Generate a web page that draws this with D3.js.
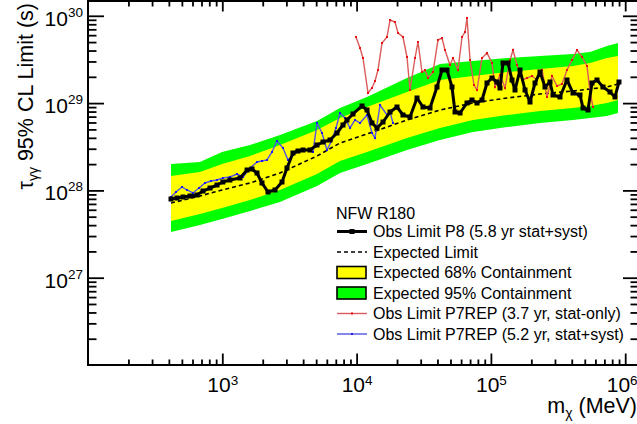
<!DOCTYPE html>
<html><head><meta charset="utf-8">
<script src="https://cdn.jsdelivr.net/npm/d3@7"></script>
<style>
body{margin:0;background:#fff}
svg{display:block}
text{font-family:"Liberation Sans",Arial,Helvetica,sans-serif;fill:#000}
</style></head>
<body><svg id="c" width="637" height="424"></svg>
<script>
// ---------------- data (mass in MeV, lifetime limit in s) ----------------
const massP8 = [415,460,510,575,648,718,810,913,1010,1140,1355,1530,1664,1813,1975,2189,2469,2783,3032,3360,3662,3990,4498,5071,5622,6338,7146,7920,8483,9402,10970,11950,13020,14190,15730,17740,19990,22150,24980,28170,31220,35210,39690,43250,47120,51330,54050,58890,66370,72320,78790,85850,93540,101900,111000,116900,123100,134100,143600,151200,164700,179500,195500,213000,232100,252900,275400,290000,326900,368600,408700,460800,485100,528400,566000,616600,683600,770700,839500,898800];
const tauP8 = [7.97e27,8.18e27,8.40e27,8.63e27,8.86e27,9.84e27,1.065e28,1.153e28,1.248e28,1.315e28,1.387e28,1.713e28,1.759e28,1.582e28,1.216e28,9.59e27,1.011e28,1.248e28,1.806e28,2.682e28,2.827e28,2.902e28,2.902e28,3.311e28,3.584e28,3.779e28,4.545e28,5.612e28,6.404e28,7.503e28,9.264e28,8.337e28,5.917e28,5.186e28,6.074e28,7.910e28,9.023e28,7.307e28,6.931e28,1.144e29,9.023e28,8.788e28,1.529e29,2.394e29,2.394e29,1.529e29,7.910e28,7.704e28,1.003e29,1.085e29,1.003e29,1.085e29,1.699e29,1.939e29,1.745e29,1.489e29,2.880e29,2.880e29,1.839e29,1.413e29,2.394e29,1.413e29,1.029e29,1.699e29,2.271e29,1.529e29,1.745e29,1.238e29,1.175e29,1.839e29,1.305e29,1.238e29,8.788e28,8.337e28,1.699e29,1.839e29,1.529e29,1.340e29,1.175e29,1.745e29];

const massExp = [415,682,995,1609,2689,5071,7522,11950,23730,41780,73560,131800,232100,408700,547000,731900,883700];
const tauExpected = [7.17e27,8.63e27,1.011e28,1.216e28,1.582e28,2.477e28,3.491e28,4.426e28,6.404e28,8.337e28,1.003e29,1.144e29,1.271e29,1.376e29,1.450e29,1.529e29,1.655e29];
const tau68Hi = [1.462e28,1.625e28,2.006e28,2.477e28,3.311e28,4.920e28,6.752e28,9.023e28,1.340e29,1.839e29,2.044e29,2.271e29,2.459e29,2.661e29,2.880e29,3.286e29,3.464e29];
const tau68Lo = [4.46e27,5.37e27,6.29e27,7.76e27,1.011e28,1.541e28,2.172e28,2.754e28,3.983e28,5.186e28,6.404e28,7.307e28,8.120e28,8.788e28,9.264e28,1.003e29,1.085e29];
const tau95Hi = [2.006e28,2.115e28,2.754e28,3.311e28,4.311e28,6.237e28,8.788e28,1.175e29,1.939e29,2.805e29,3.035e29,3.286e29,3.464e29,3.651e29,3.848e29,4.510e29,4.880e29];
const tau95Lo = [3.34e27,4.01e27,4.70e27,5.81e27,7.36e27,1.123e28,1.582e28,2.006e28,2.902e28,3.779e28,4.667e28,5.323e28,5.917e28,6.404e28,6.752e28,7.116e28,7.704e28];

const massP7Stat = [9897,10600,11160,12160,13020,13710,14430,15460,16840,17740,19320,20340,22150,23730,24980,27220,28660,30690,32310,34010,37060,40370,43250,45510,49600,52230,56890,60950,64150,66370,69930,74860,78790,85850,93540,101900,107300,116900,127400,138800,146100,156500,170500,185700,202300,220400,240200,261700,285100,310600,338400,368600,401800,437700,476900,519600,547000,575600];
const tauP7Stat = [5.718e29,4.278e29,3.286e29,1.305e29,1.489e29,1.791e29,2.394e29,4.880e29,5.718e29,8.952e29,8.492e29,6.353e29,5.718e29,3.374e29,1.413e29,3.286e29,5.012e29,2.271e29,2.394e29,1.939e29,2.271e29,5.284e29,5.568e29,4.057e29,2.732e29,3.286e29,2.394e29,5.718e29,6.523e29,9.437e29,3.116e29,1.612e29,1.413e29,3.286e29,3.749e29,2.880e29,1.529e29,2.099e29,1.489e29,3.116e29,4.057e29,2.732e29,1.839e29,1.939e29,2.044e29,1.839e29,2.394e29,1.175e29,2.044e29,1.570e29,1.655e29,2.394e29,3.116e29,4.057e29,3.374e29,2.661e29,1.340e29,9.023e28];

const massP7Syst = [415,452,501,546,605,671,743,824,913,1010,1140,1287,1426,1609,1813,1975,2152,2345,2555,2831,3085,3360,3599,3922,4273,4736,5071,5526,6021,6560,7025,7522,8196,8930,9730,10600,11950,13020,13710,14940,16840,17740,18660];
const tauP7Syst = [8.40e27,9.59e27,1.094e28,1.011e28,9.34e27,1.065e28,1.216e28,1.281e28,1.315e28,1.387e28,1.424e28,1.541e28,1.424e28,1.806e28,2.115e28,2.172e28,2.230e28,2.754e28,3.680e28,3.060e28,2.230e28,2.544e28,2.754e28,2.827e28,2.902e28,2.754e28,5.917e28,4.545e28,2.902e28,3.779e28,5.186e28,7.704e28,6.752e28,5.186e28,6.404e28,5.917e28,7.307e28,4.545e28,3.983e28,9.510e28,7.307e28,7.910e28,5.917e28];

const xMajorExp = [3,4,5,6];
const yMajorExp = [27,28,29,30];
const legendTitle = "NFW R180";
const legendLabels = ["Obs Limit P8 (5.8 yr stat+syst)","Expected Limit","Expected 68% Containment","Expected 95% Containment","Obs Limit P7REP (3.7 yr, stat-only)","Obs Limit P7REP (5.2 yr, stat+syst)"];

// ---------------- layout ----------------
const L=88, R=638, T=1, B=365;
const pxPerDecX=134.3, pxPerDecY=87.3;
const x=d3.scaleLog().domain([100, Math.pow(10, 2+(R-L)/pxPerDecX)]).range([L,R]);
const y=d3.scaleLog().domain([1e26, Math.pow(10, 26+(B-T)/pxPerDecY)]).range([B,T]);
const svg=d3.select("#c");
const GREEN="#00ff00", YELLOW="#ffff00", RED="#dc5a5a", REDM="#e81010", BLUE="#5252e6", BLUEM="#1a1aff";

// bands
const area=(lo,hi)=>d3.area().x((d,i)=>x(massExp[i])).y0((d,i)=>y(lo[i])).y1((d,i)=>y(hi[i]));
svg.append("path").datum(massExp).attr("d",area(tau95Lo,tau95Hi)).attr("fill",GREEN);
svg.append("path").datum(massExp).attr("d",area(tau68Lo,tau68Hi)).attr("fill",YELLOW);

const line=d3.line().x(d=>x(d[0])).y(d=>y(d[1]));
// expected
svg.append("path").datum(d3.zip(massExp,tauExpected)).attr("d",line).attr("fill","none")
  .attr("stroke","#000").attr("stroke-width",1.6).attr("stroke-dasharray","4,3");
// P7REP syst (blue)
const blue=d3.zip(massP7Syst,tauP7Syst);
svg.append("path").datum(blue).attr("d",line).attr("fill","none").attr("stroke",BLUE).attr("stroke-width",1.4);
svg.append("g").selectAll("rect").data(blue).join("rect")
  .attr("x",d=>x(d[0])-1).attr("y",d=>y(d[1])-1).attr("width",2).attr("height",2).attr("fill",BLUEM);
// P7REP stat (red)
const red=d3.zip(massP7Stat,tauP7Stat);
svg.append("path").datum(red).attr("d",line).attr("fill","none").attr("stroke",RED).attr("stroke-width",1.4);
svg.append("g").selectAll("rect").data(red).join("rect")
  .attr("x",d=>x(d[0])-1).attr("y",d=>y(d[1])-1).attr("width",2).attr("height",2).attr("fill",REDM);
// P8 observed (black)
const p8=d3.zip(massP8,tauP8);
svg.append("path").datum(p8).attr("d",line).attr("fill","none").attr("stroke","#000").attr("stroke-width",3).attr("stroke-linejoin","round");
svg.append("g").selectAll("rect").data(p8).join("rect")
  .attr("x",d=>x(d[0])-2.5).attr("y",d=>y(d[1])-2.5).attr("width",5).attr("height",5).attr("fill","#000");

// ---------------- axes ----------------
const xMajor=xMajorExp.map(e=>Math.pow(10,e));
const xMinor=[]; for(let e=2;e<=6;e++) for(let k=2;k<=9;k++){const v=k*Math.pow(10,e); if(v<x.domain()[1]) xMinor.push(v);}
const yMajor=yMajorExp.map(e=>Math.pow(10,e));
const yMinor=[]; for(let e=26;e<=30;e++) for(let k=2;k<=9;k++){const v=k*Math.pow(10,e); if(v<y.domain()[1]) yMinor.push(v);}

function styleAxis(g){g.select(".domain").remove(); g.selectAll("line").attr("stroke","#000").attr("stroke-width",1.8);}
function supLabels(sel, base){
  sel.selectAll("text").each(function(d){
    const t=d3.select(this); t.text(null);
    t.append("tspan").text("10");
    t.append("tspan").attr("font-size",13.5).attr("dy",base).text(Math.round(Math.log10(d)));
  });
}
// bottom
const gb=svg.append("g").attr("transform",`translate(0,${B})`);
gb.append("g").call(d3.axisBottom(x).tickValues(xMinor).tickSizeInner(-5.5).tickSizeOuter(0).tickFormat("")).call(styleAxis);
const gbm=gb.append("g").call(d3.axisBottom(x).tickValues(xMajor).tickSizeInner(-11.5).tickSizeOuter(0).tickPadding(0).tickFormat(d=>d)).call(styleAxis);
gbm.selectAll("text").attr("y",27).attr("dy",null).attr("font-size",21).attr("font-family","Liberation Sans, Arial, sans-serif")
  .attr("x",d=>d>=1e6?-3.5:0);
supLabels(gbm,-7.5);
// top
svg.append("g").attr("transform",`translate(0,${T})`).call(d3.axisTop(x).tickValues(xMinor).tickSizeInner(-5.5).tickSizeOuter(0).tickFormat("")).call(styleAxis);
svg.append("g").attr("transform",`translate(0,${T})`).call(d3.axisTop(x).tickValues(xMajor).tickSizeInner(-10.5).tickSizeOuter(0).tickFormat("")).call(styleAxis);
// left
const gl=svg.append("g").attr("transform",`translate(${L},0)`);
gl.append("g").call(d3.axisLeft(y).tickValues(yMinor).tickSizeInner(-8.5).tickSizeOuter(0).tickFormat("")).call(styleAxis);
const glm=gl.append("g").call(d3.axisLeft(y).tickValues(yMajor).tickSizeInner(-16).tickSizeOuter(0).tickPadding(5).tickFormat(d=>d)).call(styleAxis);
glm.selectAll("text").attr("dy",9.5).attr("font-size",21).attr("font-family","Liberation Sans, Arial, sans-serif");
supLabels(glm,-9);
// right
svg.append("g").attr("transform",`translate(${R},0)`).call(d3.axisRight(y).tickValues(yMinor).tickSizeInner(-7.5).tickSizeOuter(0).tickFormat("")).call(styleAxis);
svg.append("g").attr("transform",`translate(${R},0)`).call(d3.axisRight(y).tickValues(yMajor).tickSizeInner(-15).tickSizeOuter(0).tickFormat("")).call(styleAxis);
// frame
svg.append("rect").attr("x",L).attr("y",T).attr("width",R-L).attr("height",B-T).attr("fill","none").attr("stroke","#000").attr("stroke-width",2);

// axis titles
const xt=svg.append("text").attr("x",637).attr("y",413).attr("text-anchor","end").attr("font-size",21.5);
xt.append("tspan").text("m");
xt.append("tspan").attr("font-size",14).attr("dy",5).text("χ");
xt.append("tspan").attr("dy",-5).text(" (MeV)");
const yt=svg.append("text").attr("transform","translate(33,3) rotate(-90)").attr("text-anchor","end").attr("font-size",21.5);
yt.append("tspan").text("τ");
yt.append("tspan").attr("font-size",14).attr("dy",5).text("γγ");
yt.append("tspan").attr("dy",-5).text(" 95% CL Limit (s)");

// ---------------- legend ----------------
const lg=svg.append("g");
lg.append("text").attr("x",336).attr("y",219).attr("font-size",16).text(legendTitle);
const rowY=i=>237+i*20.5;
legendLabels.forEach((lab,i)=>{
  lg.append("text").attr("x",373).attr("y",rowY(i)).attr("font-size",16).text(lab);
});
const cy=i=>rowY(i)-5.5;
lg.append("line").attr("x1",337).attr("x2",367).attr("y1",cy(0)).attr("y2",cy(0)).attr("stroke","#000").attr("stroke-width",3);
lg.append("rect").attr("x",349.5).attr("y",cy(0)-2.5).attr("width",5).attr("height",5).attr("fill","#000");
lg.append("line").attr("x1",337).attr("x2",367).attr("y1",cy(1)).attr("y2",cy(1)).attr("stroke","#000").attr("stroke-width",1.6).attr("stroke-dasharray","4,3");
lg.append("rect").attr("x",337).attr("y",cy(2)-6).attr("width",29).attr("height",12).attr("fill",YELLOW).attr("stroke","#000").attr("stroke-width",1.6);
lg.append("rect").attr("x",337).attr("y",cy(3)-6).attr("width",29).attr("height",12).attr("fill",GREEN).attr("stroke","#000").attr("stroke-width",1.6);
lg.append("line").attr("x1",337).attr("x2",367).attr("y1",cy(4)).attr("y2",cy(4)).attr("stroke",RED).attr("stroke-width",1.4);
lg.append("rect").attr("x",351).attr("y",cy(4)-1).attr("width",2).attr("height",2).attr("fill",REDM);
lg.append("line").attr("x1",337).attr("x2",367).attr("y1",cy(5)).attr("y2",cy(5)).attr("stroke",BLUE).attr("stroke-width",1.4);
lg.append("rect").attr("x",351).attr("y",cy(5)-1).attr("width",2).attr("height",2).attr("fill",BLUEM);
</script></body></html>
